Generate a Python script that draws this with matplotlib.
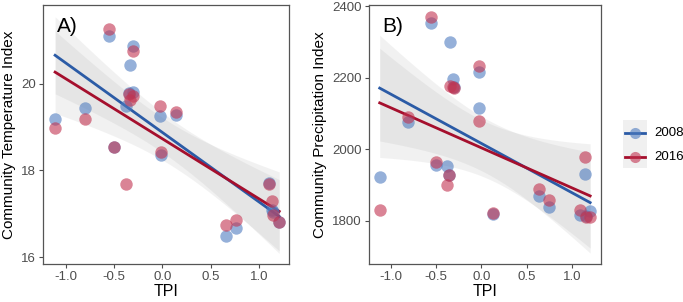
import matplotlib
matplotlib.use('Agg')
import matplotlib.pyplot as plt
from matplotlib.lines import Line2D
from matplotlib.patches import Rectangle
import numpy as np

plt.rcParams['font.family'] = ['Liberation Sans', 'DejaVu Sans']
plt.rcParams['axes.unicode_minus'] = False

# datos
years = ['2008', '2016']

tpi_a = [-1.11, -0.80, -0.55, -0.50, -0.38, -0.35, -0.33, -0.30, -0.30,
         -0.02, -0.01, 0.14, 0.66, 0.76, 1.10, 1.13, 1.15, 1.21]
cti_2008 = [19.18, 19.45, 21.11, 18.55, 19.48, 19.80, 20.43, 20.88, 19.82,
            19.25, 18.36, 19.28, 16.49, 16.68, 17.72, 17.09, 17.03, 16.82]
cti_2016 = [18.98, 19.19, 21.26, 18.55, 17.69, 19.76, 19.62, 20.75, 19.71,
            19.48, 18.42, 19.34, 16.73, 16.85, 17.69, 17.29, 16.98, 16.82]

tpi_b = [-1.12, -0.81, -0.55, -0.50, -0.38, -0.36, -0.34, -0.31, -0.30,
         -0.02, -0.02, 0.13, 0.64, 0.75, 1.09, 1.14, 1.15, 1.20]
cpi_2008 = [1921, 2077, 2352, 1956, 1954, 1929, 2300, 2196, 2174,
            2215, 2116, 1820, 1870, 1837, 1816, 1930, 1812, 1826]
cpi_2016 = [1830, 2089, 2370, 1965, 1901, 1929, 2177, 2173, 2172,
            2234, 2080, 1822, 1888, 1858, 1830, 1977, 1811, 1809]

COL_PUNTO = {'2008': '#4f7cc0', '2016': '#c23350'}
COL_LINEA = {'2008': '#2b5ba6', '2016': '#a50f2d'}
T_975 = 2.12  # t de student, gl = n - 2


def ajuste(ax, x, y, anio):
    x = np.asarray(x, float)
    y = np.asarray(y, float)
    m, b = np.polyfit(x, y, 1)
    xs = np.linspace(x.min(), x.max(), 80)
    ys = m * xs + b
    n = len(x)
    resid = y - (m * x + b)
    s = np.sqrt(np.sum(resid ** 2) / (n - 2))
    se = s * np.sqrt(1 / n + (xs - x.mean()) ** 2 / np.sum((x - x.mean()) ** 2))
    ax.fill_between(xs, ys - T_975 * se, ys + T_975 * se, color='#999999',
                    alpha=0.13, lw=0, zorder=1)
    ax.plot(xs, ys, color=COL_LINEA[anio], lw=2, zorder=3)


def panel(ax, x, y08, y16, ylabel, letra):
    ajuste(ax, x, y08, '2008')
    ajuste(ax, x, y16, '2016')
    ax.scatter(x, y08, s=80, color=COL_PUNTO['2008'], alpha=0.6, lw=0, zorder=4)
    ax.scatter(x, y16, s=80, color=COL_PUNTO['2016'], alpha=0.6, lw=0, zorder=4)
    ax.set_xlabel('TPI', fontsize=11.5, labelpad=1)
    ax.set_ylabel(ylabel, fontsize=11, labelpad=4)
    ax.set_xticks([-1.0, -0.5, 0.0, 0.5, 1.0])
    ax.set_xticklabels(['-1.0', '-0.5', '0.0', '0.5', '1.0'])
    ax.tick_params(labelsize=9.5, colors='#4d4d4d', length=3, width=0.8,
                   labelcolor='#4d4d4d', pad=2)
    for sp in ax.spines.values():
        sp.set_color('#555555')
        sp.set_linewidth(0.9)
    ax.text(0.057, 0.955, letra, transform=ax.transAxes, fontsize=15,
            va='top', ha='left')


fig = plt.figure(figsize=(6.83, 3.02), dpi=100)
ax1 = fig.add_axes([0.063, 0.126, 0.360, 0.857])
ax2 = fig.add_axes([0.540, 0.126, 0.340, 0.857])

panel(ax1, tpi_a, cti_2008, cti_2016, 'Community Temperature Index', 'A)')
ax1.set_xlim(-1.235, 1.31)
ax1.set_ylim(15.84, 21.82)
ax1.set_yticks([16, 18, 20])

panel(ax2, tpi_b, cpi_2008, cpi_2016, 'Community Precipitation Index', 'B)')
ax2.set_xlim(-1.24, 1.32)
ax2.set_ylim(1679, 2403)
ax2.set_yticks([1800, 2000, 2200, 2400])

# leyenda hecha a mano (fondo gris de las claves como en ggplot)
W, H = 683, 302
fig.patches.append(Rectangle((623 / W, 1 - 168 / H), 24 / W, 48 / H,
                             transform=fig.transFigure, color='#f0f0f0', lw=0))
for i, anio in enumerate(years):
    yy = 1 - (133 + 24 * i) / H
    fig.add_artist(Line2D([625 / W, 645 / W], [yy, yy], transform=fig.transFigure,
                          color=COL_LINEA[anio], lw=2))
    fig.add_artist(Line2D([635 / W], [yy], transform=fig.transFigure, marker='o',
                          markersize=8, markerfacecolor=COL_PUNTO[anio],
                          markeredgewidth=0, alpha=0.6, lw=0))
    fig.text(654 / W, yy, anio, fontsize=9.5, va='center', ha='left')

fig.savefig('out.png', dpi=100)
